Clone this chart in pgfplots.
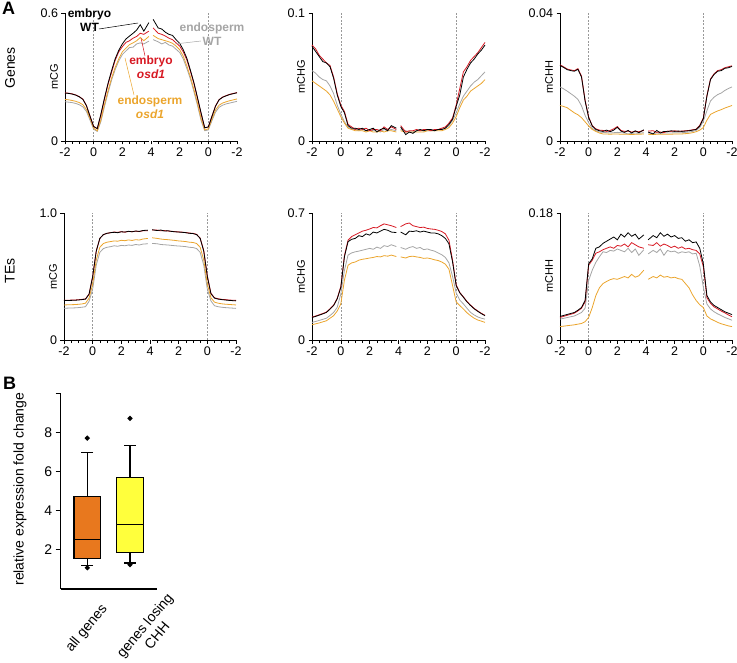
\documentclass[border=0pt]{standalone}
\usepackage{fontspec}
\setmainfont{Liberation Sans}
\usepackage{pgfplots}
\usepackage{pgfplotstable}
\pgfplotsset{compat=1.18}
\usepgfplotslibrary{statistics}

\definecolor{cred}{RGB}{215,25,35}
\definecolor{cgray}{RGB}{165,165,165}
\definecolor{corange}{RGB}{235,165,45}
\definecolor{boxorange}{RGB}{232,120,30}
\definecolor{boxyellow}{RGB}{255,255,60}

% u: 0..6 = -2..4 (left half), 6..12 = 4..-2 (right half)
% ew = embryo WT, eo = embryo osd1, nw = endosperm WT, no = endosperm osd1
\pgfplotstableread{
u ew eo nw no
0 .225 .226 .184 .195
0.25 .223 .224 .182 .193
0.5 .220 .221 .180 .190
0.75 .215 .216 .176 .186
1 .207 .208 .170 .180
1.25 .195 .196 .160 .170
1.5 .165 .166 .138 .147
1.75 .115 .116 .097 .105
2 .068 .068 .055 .060
2.25 .058 .058 .045 .048
2.5 .125 .120 .090 .098
2.75 .200 .195 .160 .170
3 .270 .265 .225 .235
3.25 .330 .322 .285 .295
3.5 .385 .378 .335 .345
3.75 .425 .418 .375 .385
4 .455 .442 .405 .418
4.25 .478 .462 .422 .435
4.5 .492 .470 .438 .452
4.75 .505 .482 .440 .460
5 .520 .490 .455 .470
5.25 .545 .505 .460 .485
5.5 .515 .500 .455 .470
5.85 .555 .515 .468 .490
6 nan nan nan nan
6.15 .570 .530 .475 .495
6.5 .530 .505 .465 .480
6.75 .525 .500 .455 .475
7 .510 .492 .462 .470
7.25 .500 .482 .450 .465
7.5 .495 .475 .445 .458
7.75 .475 .460 .430 .445
8 .458 .445 .415 .428
8.25 .428 .418 .385 .398
8.5 .388 .380 .340 .352
8.75 .332 .326 .290 .300
9 .272 .268 .230 .240
9.25 .202 .198 .165 .175
9.5 .130 .126 .095 .104
9.75 .062 .062 .048 .052
10 .066 .066 .052 .057
10.25 .115 .116 .095 .103
10.5 .163 .164 .135 .145
10.75 .193 .194 .158 .168
11 .205 .206 .168 .178
11.25 .212 .213 .174 .184
11.5 .218 .219 .178 .189
11.75 .222 .223 .182 .193
12 .226 .227 .186 .197
}\gCG

\pgfplotstableread{
u ew eo nw no
0 .074 .075 .055 .047
0.25 .070 .072 .053 .045
0.5 .066 .067 .050 .043
0.75 .062 .064 .048 .041
1 .061 .061 .047 .039
1.25 .058 .059 .043 .036
1.5 .049 .050 .037 .031
1.75 .036 .037 .028 .025
2 .027 .028 .021 .019
2.25 .022 .023 .015 .014
2.5 .012 .013 .011 .010
2.75 .010 .011 .009 .009
3 .010 .009 .009 .008
3.25 .009 .010 .008 .008
3.5 .010 .009 .009 .008
3.75 .008 .010 .008 .007
4 .009 .008 .009 .008
4.25 .010 .009 .008 .007
4.5 .007 .009 .008 .007
4.75 .009 .008 .007 .008
5 .010 .011 .009 .007
5.25 .008 .009 .008 .008
5.5 .012 .011 .009 .008
5.85 .010 .009 .008 .007
6 nan nan nan nan
6.15 .011 .012 .009 .008
6.5 .005 .007 .008 .007
6.75 .007 .008 .007 .007
7 .006 .008 .007 .007
7.25 .008 .009 .008 .007
7.5 .009 .008 .008 .007
7.75 .008 .009 .008 .007
8 .009 .009 .008 .008
8.25 .009 .008 .008 .008
8.5 .008 .009 .008 .008
8.75 .009 .009 .009 .008
9 .009 .010 .009 .008
9.25 .010 .011 .010 .009
9.5 .013 .014 .012 .0105
9.75 .017 .018 .016 .014
10 .027 .028 .022 .019
10.25 .036 .041 .029 .026
10.5 .050 .054 .035 .032
10.75 .056 .058 .039 .035
11 .061 .063 .043 .039
11.25 .064 .066 .046 .041
11.5 .068 .069 .048 .043
11.75 .071 .073 .051 .045
12 .075 .077 .054 .048
}\gCHG

\pgfplotstableread{
u ew eo nw no
0 .0236 .0238 .0169 .0111
0.25 .0230 .0232 .0163 .0108
0.5 .0223 .0225 .0156 .0104
0.75 .0220 .0222 .0148 .0096
1 .0218 .0220 .0140 .0088
1.25 .0224 .0226 .0130 .0082
1.5 .0200 .0203 .0110 .0073
1.75 .0125 .0128 .0080 .0060
2 .0073 .0075 .0057 .0047
2.25 .0047 .0048 .0040 .0036
2.5 .0036 .0038 .0032 .0030
2.75 .0032 .0034 .0028 .0025
3 .0030 .0033 .0027 .0022
3.25 .0034 .0030 .0026 .0022
3.5 .0029 .0033 .0025 .0021
3.75 .0034 .0038 .0026 .0022
4 .0043 .0045 .0027 .0022
4.25 .0031 .0033 .0026 .0021
4.5 .0027 .0030 .0025 .0021
4.75 .0033 .0031 .0022 .0021
5 .0025 .0028 .0024 .0020
5.25 .0032 .0030 .0025 .0021
5.5 .0026 .0029 .0024 .0021
5.85 .0035 .0033 .0026 .0022
6 nan nan nan nan
6.15 .0028 .0031 .0025 .0021
6.5 .0022 .0032 .0024 .0020
6.75 .0033 .0027 .0025 .0021
7 .0025 .0028 .0024 .0021
7.25 .0030 .0026 .0025 .0021
7.5 .0029 .0031 .0025 .0021
7.75 .0032 .0030 .0025 .0021
8 .0030 .0032 .0026 .0022
8.25 .0031 .0030 .0026 .0022
8.5 .0030 .0031 .0026 .0022
8.75 .0031 .0032 .0027 .0023
9 .0032 .0033 .0028 .0024
9.25 .0034 .0035 .0030 .0026
9.5 .0036 .0037 .0033 .0029
9.75 .0047 .0049 .0042 .0034
10 .0070 .0072 .0062 .0042
10.25 .0140 .0142 .0095 .0065
10.5 .0192 .0194 .0125 .0083
10.75 .0208 .0210 .0137 .0089
11 .0218 .0220 .0145 .0094
11.25 .0220 .0223 .0150 .0098
11.5 .0227 .0229 .0158 .0103
11.75 .0229 .0232 .0164 .0107
12 .0233 .0235 .0169 .0111
}\gCHH

\pgfplotstableread{
u ew eo nw no
0 .310 .312 .250 .276
0.25 .311 .313 .251 .277
0.5 .312 .314 .252 .278
0.75 .313 .315 .253 .279
1 .315 .317 .255 .281
1.25 .318 .320 .258 .284
1.5 .322 .324 .262 .290
1.75 .360 .362 .305 .330
2 .500 .500 .400 .440
2.25 .700 .700 .590 .630
2.5 .800 .800 .690 .730
2.75 .830 .830 .720 .760
3 .840 .840 .730 .770
3.25 .845 .845 .735 .775
3.5 .848 .850 .742 .780
3.75 .845 .848 .738 .778
4 .852 .853 .745 .785
4.25 .850 .849 .742 .782
4.5 .856 .855 .748 .788
4.75 .852 .853 .745 .784
5 .858 .857 .752 .790
5.25 .855 .854 .748 .787
5.5 .862 .860 .755 .795
5.85 .865 .860 .758 .800
6 nan nan nan nan
6.15 .868 .866 .760 .805
6.5 .862 .865 .758 .800
6.75 .866 .860 .752 .795
7 .858 .862 .750 .792
7.25 .860 .858 .748 .790
7.5 .855 .856 .745 .787
7.75 .852 .853 .742 .784
8 .850 .851 .740 .780
8.25 .848 .849 .738 .778
8.5 .845 .846 .735 .775
8.75 .840 .842 .730 .770
9 .838 .840 .728 .768
9.25 .830 .832 .720 .760
9.5 .800 .802 .690 .730
9.75 .700 .705 .590 .630
10 .500 .505 .400 .440
10.25 .365 .368 .308 .333
10.5 .330 .332 .270 .298
10.75 .322 .325 .262 .290
11 .318 .320 .258 .285
11.25 .315 .318 .255 .282
11.5 .312 .315 .253 .280
11.75 .310 .313 .251 .278
12 .308 .312 .249 .276
}\tCG

\pgfplotstableread{
u ew eo nw no
0 .124 .126 .097 .084
0.25 .130 .132 .102 .089
0.5 .137 .139 .108 .094
0.75 .144 .146 .114 .100
1 .152 .154 .120 .106
1.25 .170 .172 .135 .120
1.5 .190 .192 .152 .134
1.75 .227 .230 .180 .160
2 .290 .295 .254 .200
2.25 .459 .465 .384 .330
2.5 .542 .550 .468 .412
2.75 .555 .570 .480 .425
3 .560 .580 .486 .430
3.25 .575 .590 .490 .440
3.5 .570 .600 .495 .445
3.75 .585 .605 .500 .448
4 .578 .612 .505 .452
4.25 .595 .620 .500 .455
4.5 .590 .618 .512 .460
4.75 .600 .630 .505 .458
5 .610 .640 .520 .465
5.25 .605 .635 .515 .462
5.5 .595 .630 .525 .468
5.85 .592 .620 .515 .460
6 nan nan nan nan
6.15 .595 .625 .510 .458
6.5 .580 .640 .500 .452
6.75 .600 .645 .510 .460
7 .598 .630 .515 .462
7.25 .602 .625 .505 .458
7.5 .595 .620 .510 .455
7.75 .600 .622 .498 .450
8 .595 .615 .502 .452
8.25 .590 .612 .495 .448
8.5 .590 .610 .490 .442
8.75 .585 .605 .480 .438
9 .575 .598 .470 .430
9.25 .560 .585 .455 .418
9.5 .530 .550 .425 .390
9.75 .430 .440 .350 .300
10 .300 .305 .260 .210
10.25 .260 .262 .220 .190
10.5 .236 .238 .199 .171
10.75 .210 .212 .175 .150
11 .190 .192 .152 .134
11.25 .172 .174 .138 .120
11.5 .158 .160 .127 .110
11.75 .145 .147 .120 .104
12 .134 .136 .115 .097
}\tCHG

\pgfplotstableread{
u ew eo nw no
0 .0334 .0320 .0296 .0190
0.25 .0348 .0335 .0307 .0196
0.5 .0362 .0350 .0318 .0203
0.75 .0376 .0365 .0330 .0209
1 .0390 .0380 .0340 .0215
1.25 .0422 .0412 .0365 .0225
1.5 .0460 .0450 .0390 .0234
1.75 .0560 .0540 .0450 .0260
2 .1080 .1060 .0845 .0320
2.25 .1150 .1130 .0990 .0460
2.5 .1300 .1230 .1100 .0630
2.75 .1320 .1250 .1180 .0740
3 .1370 .1280 .1250 .0800
3.25 .1400 .1300 .1240 .0830
3.5 .1430 .1320 .1270 .0855
3.75 .1460 .1300 .1260 .0870
4 .1420 .1340 .1290 .0860
4.25 .1500 .1330 .1270 .0880
4.5 .1460 .1360 .1250 .0900
4.75 .1520 .1320 .1300 .0880
5 .1470 .1380 .1240 .0930
5.25 .1500 .1350 .1290 .0890
5.5 .1430 .1320 .1200 .0910
5.85 .1490 .1300 .1280 .0990
6 nan nan nan nan
6.15 .1420 .1350 .1220 .0860
6.5 .1480 .1340 .1270 .0900
6.75 .1450 .1380 .1240 .0880
7 .1520 .1330 .1290 .0920
7.25 .1470 .1360 .1200 .0890
7.5 .1500 .1340 .1270 .0900
7.75 .1460 .1310 .1250 .0880
8 .1480 .1330 .1260 .0890
8.25 .1440 .1300 .1230 .0870
8.5 .1450 .1320 .1250 .0860
8.75 .1400 .1290 .1240 .0800
9 .1420 .1300 .1250 .0740
9.25 .1380 .1280 .1220 .0640
9.5 .1390 .1270 .1230 .0560
9.75 .1300 .1220 .1050 .0500
10 .1080 .1040 .0750 .0460
10.25 .0630 .0600 .0510 .0340
10.5 .0540 .0520 .0440 .0300
10.75 .0490 .0470 .0400 .0275
11 .0460 .0440 .0370 .0250
11.25 .0430 .0410 .0345 .0230
11.5 .0400 .0385 .0320 .0215
11.75 .0380 .0355 .0300 .0200
12 .0360 .0330 .0280 .0190
}\tCHH

\pgfplotsset{
  meth/.style={
    scale only axis, width=172pt, height=128pt, anchor=south west,
    axis lines*=left, xmin=0, xmax=12, ymin=0, ymax=#1,
    ytick={0,#1}, scaled y ticks=false,
    clip=false, unbounded coords=jump,
    xtick={0,2,4,6,8,10,12}, xticklabels={-2,0,2,4,2,0,-2},
    minor x tick num=3,
    tick align=outside, major tick length=3.5pt, minor tick length=3pt,
    x axis line style={draw=none},
    y axis line style={line width=0.7pt},
    every tick/.style={black, line width=0.6pt},
    tick label style={font=\fontsize{12.5}{14}\selectfont},
    ylabel style={at={(axis description cs:-0.02,0.5)}, anchor=south,
      font=\fontsize{11}{13}\selectfont},
  },
}

\newcommand{\panel}[2]{%
  \draw[line width=0.7pt] (axis cs:0,0) -- (axis cs:5.88,0) (axis cs:6.12,0) -- (axis cs:12,0);
  \draw[gray!80, dash pattern=on 2pt off 1.5pt, line width=0.4pt] (axis cs:2,0) -- (axis cs:2,#2);
  \draw[gray!80, dash pattern=on 2pt off 1.5pt, line width=0.4pt] (axis cs:10,0) -- (axis cs:10,#2);
  \addplot[cgray, line width=0.8pt] table[x=u, y=nw] {#1};
  \addplot[corange, line width=0.8pt] table[x=u, y=no] {#1};
  \addplot[cred, line width=0.8pt] table[x=u, y=eo] {#1};
  \addplot[black, line width=0.8pt] table[x=u, y=ew] {#1};
}

\begin{document}
\begin{tikzpicture}
\useasboundingbox (0,0) rectangle (737pt,-663pt);

\node[anchor=base west, inner sep=0, font=\bfseries\fontsize{18}{20}\selectfont] at (2pt,-15pt) {A};
\node[anchor=base west, inner sep=0, font=\bfseries\fontsize{18}{20}\selectfont] at (3pt,-389pt) {B};
\node[rotate=90, font=\fontsize{14}{16}\selectfont] at (10pt,-68pt) {Genes};
\node[rotate=90, font=\fontsize{14}{16}\selectfont] at (10pt,-271pt) {TEs};

% Genes
\begin{axis}[meth=0.6, at={(65pt,-141pt)}, yticklabels={0,0.6}, ylabel={mCG}]
\panel{\gCG}{0.6}
\end{axis}
\begin{axis}[meth=0.1, at={(312pt,-141pt)}, width=173pt, yticklabels={0,0.1}, ylabel={mCHG}]
\panel{\gCHG}{0.1}
\end{axis}
\begin{axis}[meth=0.04, at={(560pt,-141pt)}, yticklabels={0,0.04}, ylabel={mCHH}]
\panel{\gCHH}{0.04}
\end{axis}

% TEs
\begin{axis}[meth=1, at={(64pt,-340pt)}, height=127pt, yticklabels={0,1.0}, ylabel={mCG}]
\panel{\tCG}{1}
\end{axis}
\begin{axis}[meth=0.7, at={(312pt,-340pt)}, width=173pt, height=127pt, yticklabels={0,0.7}, ylabel={mCHG}]
\panel{\tCHG}{0.7}
\end{axis}
\begin{axis}[meth=0.18, at={(560pt,-340pt)}, height=127pt, yticklabels={0,0.18}, ylabel={mCHH}]
\panel{\tCHH}{0.18}
\end{axis}

% series labels
\begin{scope}[font=\bfseries\fontsize{12}{14.5}\selectfont]
\node[align=center, black] at (89.5pt,-20pt) {embryo\\WT};
\draw[black, line width=0.5pt] (99pt,-29pt) -- (138pt,-23pt);
\node[align=center, cgray] at (212pt,-34pt) {endosperm\\WT};
\draw[cgray, line width=0.5pt] (201pt,-41pt) -- (175pt,-44pt);
\node[align=center, cred] at (151pt,-67pt) {embryo\\\textit{osd1}};
\draw[cred, line width=0.5pt] (145pt,-56pt) -- (141pt,-38pt);
\node[align=center, corange] at (150pt,-107pt) {endosperm\\\textit{osd1}};
\draw[corange, line width=0.5pt] (134pt,-95pt) -- (125pt,-58pt);
\end{scope}

% B
\begin{axis}[
  scale only axis, width=96pt, height=195.6pt, anchor=south west,
  at={(60.7pt,-588.9pt)},
  axis lines*=left, axis line style={line width=1.3pt},
  xmin=0.377, xmax=2.625, ymin=0, ymax=10,
  ytick={2,4,6,8,10}, yticklabels={2,4,6,8,{}},
  xtick={1,2}, xticklabels={},
  xtick style={draw=none},
  ytick style={black, line width=1.3pt},
  tick align=outside, major tick length=5pt,
  tick label style={font=\fontsize{14}{16}\selectfont},
  ylabel={relative expression fold change},
  ylabel style={at={(axis description cs:-0.32,0.51)}, anchor=south,
    font=\fontsize{14}{16}\selectfont},
  boxplot/draw direction=y,
  clip=false,
]
\addplot[draw=black, line width=1.3pt, fill=boxorange, mark=*, mark size=1.8pt,
  mark options={fill=black, solid},
  boxplot prepared={draw position=1, lower whisker=1.18, lower quartile=1.54,
    median=2.52, upper quartile=4.74, upper whisker=6.97,
    box extend=0.625, whisker extend=0.28}]
  coordinates {(0,7.71) (0,1.08)};
\addplot[draw=black, line width=1.3pt, fill=boxyellow, mark=*, mark size=1.8pt,
  mark options={fill=black, solid},
  boxplot prepared={draw position=2, lower whisker=1.32, lower quartile=1.86,
    median=3.29, upper quartile=5.69, upper whisker=7.32,
    box extend=0.625, whisker extend=0.28}]
  coordinates {(0,8.72) (0,1.24)};
\end{axis}

% B category labels
\begin{scope}[font=\fontsize{14}{16}\selectfont]
\node[rotate=50, anchor=east, inner sep=0] at (105pt,-607pt) {all genes};
\node[rotate=50, anchor=east, inner sep=0, align=center] at (176pt,-600pt) {genes losing\\CHH};
\end{scope}
\end{tikzpicture}
\end{document}
